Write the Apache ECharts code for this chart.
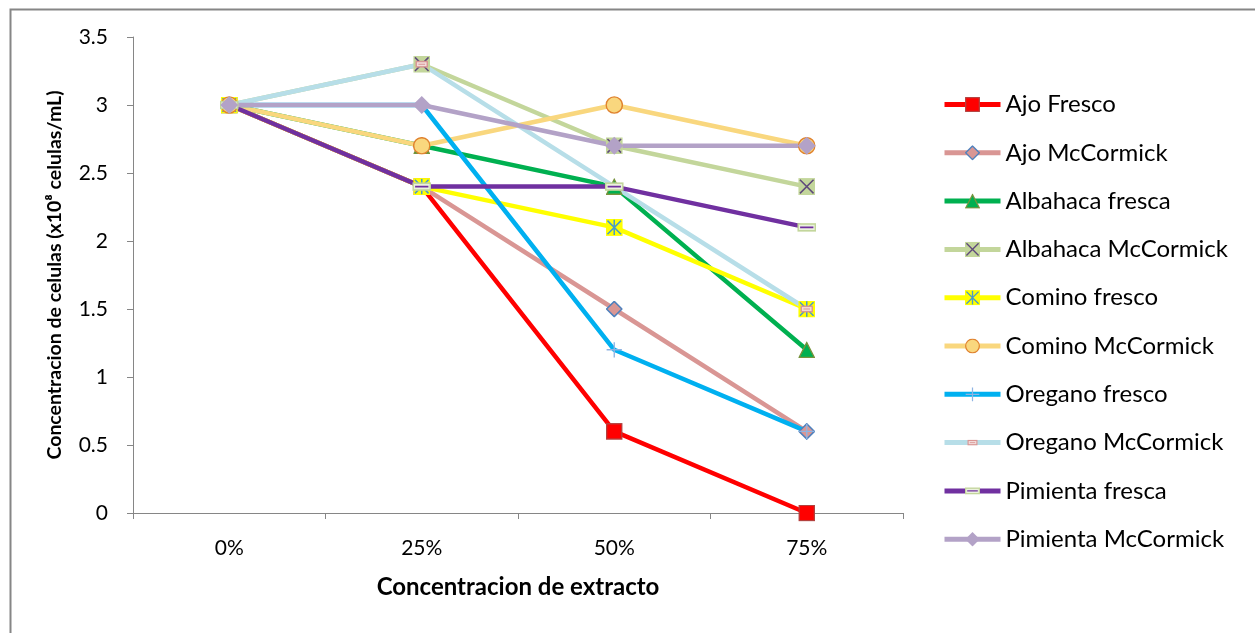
<!DOCTYPE html>
<html>
<head>
<meta charset="utf-8">
<script src="https://cdn.jsdelivr.net/npm/echarts@6/dist/echarts.min.js"></script>
<style>
  html, body { margin: 0; padding: 0; background: #fff; }
  #chart { width: 1255px; height: 633px; }
</style>
</head>
<body>
<div id="chart"></div>
<script>
// Extract concentrations on the category axis
const categories = ['0%', '25%', '50%', '75%'];

// Cell concentration (x10^8 cells/mL) per treatment
const ajoFresco          = [3, 2.4, 0.6, 0];
const ajoMcCormick       = [3, 2.4, 1.5, 0.6];
const albahacaFresca     = [3, 2.7, 2.4, 1.2];
const albahacaMcCormick  = [3, 3.3, 2.7, 2.4];
const cominoFresco       = [3, 2.4, 2.1, 1.5];
const cominoMcCormick    = [3, 2.7, 3, 2.7];
const oreganoFresco      = [3, 3, 1.2, 0.6];
const oreganoMcCormick   = [3, 3.3, 2.4, 1.5];
const pimientaFresca     = [3, 2.4, 2.4, 2.1];
const pimientaMcCormick  = [3, 3, 2.7, 2.7];

const yTicks = { min: 0, max: 3.5, interval: 0.5 };

const FONT = 'Lato, sans-serif';

// Marker glyphs as small inline SVG images (multi-colour markers)
function svgSymbol(body) {
  const svg = '<svg xmlns="http://www.w3.org/2000/svg" width="80" height="80" viewBox="0 0 20 20">' + body + '</svg>';
  return 'image://data:image/svg+xml;charset=utf-8,' + encodeURIComponent(svg);
}

const markers = {
  square:   svgSymbol('<rect x="1" y="1" width="18" height="18" fill="#FF0000" stroke="#B3413E" stroke-width="1.6"/>'),
  diamond:  svgSymbol('<polygon points="10,1 19,10 10,19 1,10" fill="#D99694" stroke="#4F81BD" stroke-width="1.8"/>'),
  triangle: svgSymbol('<polygon points="10,1.5 19,19 1,19" fill="#00B050" stroke="#77933C" stroke-width="1.6"/>'),
  xbox:     svgSymbol('<rect x="0" y="0" width="20" height="20" fill="#C3D69B"/><path d="M2,2L18,18M18,2L2,18" stroke="#604A7B" stroke-width="1.8"/>'),
  star:     svgSymbol('<rect x="0" y="0" width="20" height="20" fill="#FFFF00"/><path d="M2,2L18,18M18,2L2,18M10,1L10,19" stroke="#4A9BC6" stroke-width="1.8"/>'),
  circle:   svgSymbol('<circle cx="10" cy="10" r="9" fill="#F9D77E" stroke="#E0832F" stroke-width="1.6"/>'),
  plus:     svgSymbol('<path d="M10,1V19M1,10H19" stroke="#8EB4E3" stroke-width="1.6"/>'),
  dash:     svgSymbol('<rect x="4.2" y="7.2" width="11.6" height="5.6" fill="#F2DCDB" stroke="#D99694" stroke-width="1.5"/><path d="M6.5,10H13.5" stroke="#D99694" stroke-width="1.1"/>'),
  bar:      svgSymbol('<rect x="0.9" y="6.4" width="18.2" height="7.2" fill="#EBF1DE" stroke="#C3D69B" stroke-width="1.7"/><path d="M3,10H17" stroke="#7030A0" stroke-width="1.7"/>'),
  diamond2: svgSymbol('<polygon points="10,0.5 19.5,10 10,19.5 0.5,10" fill="#B3A2C7"/>')
};

function makeSeries(name, data, color, symbol, size) {
  return {
    name: name,
    type: 'line',
    data: data,
    symbol: symbol,
    symbolSize: size,
    showAllSymbol: true,
    lineStyle: { color: color, width: 4.5 },
    itemStyle: { color: color },
    emphasis: { disabled: true },
    animation: false
  };
}

const series = [
  makeSeries('Ajo Fresco',         ajoFresco,         '#FF0000', markers.square,   17),
  makeSeries('Ajo McCormick',      ajoMcCormick,      '#D99694', markers.diamond,  17),
  makeSeries('Albahaca fresca',    albahacaFresca,    '#00B050', markers.triangle, 17),
  makeSeries('Albahaca McCormick', albahacaMcCormick, '#C3D69B', markers.xbox,     17),
  makeSeries('Comino fresco',      cominoFresco,      '#FFFF00', markers.star,     17),
  makeSeries('Comino McCormick',   cominoMcCormick,   '#F9D77E', markers.circle,   18),
  makeSeries('Oregano fresco',     oreganoFresco,     '#00B0F0', markers.plus,     17),
  makeSeries('Oregano McCormick',  oreganoMcCormick,  '#B7DEE8', markers.dash,     19),
  makeSeries('Pimienta fresca',    pimientaFresca,    '#7030A0', markers.bar,      19),
  makeSeries('Pimienta McCormick', pimientaMcCormick, '#B3A2C7', markers.diamond2, 19)
];

const chart = echarts.init(document.getElementById('chart'), null, { renderer: 'canvas' });

chart.setOption({
  backgroundColor: '#ffffff',
  animation: false,
  textStyle: { fontFamily: FONT },
  graphic: [{
    type: 'rect',
    left: 8, top: 7,
    shape: { width: 1300, height: 700 },
    style: { fill: 'none', stroke: '#868686', lineWidth: 2 },
    silent: true
  }],
  grid: { left: 133, right: 352, top: 37, bottom: 120, containLabel: false },
  legend: {
    orient: 'vertical',
    left: 942,
    top: 92,
    padding: 0,
    itemWidth: 56,
    itemHeight: 19,
    itemGap: 23.3,
    lineStyle: { width: 5 },
    textStyle: { fontFamily: FONT, fontSize: 24, color: '#000', lineHeight: 25 },
    data: series.map(s => s.name)
  },
  xAxis: {
    type: 'category',
    data: categories,
    boundaryGap: true,
    name: 'Concentracion de extracto',
    nameLocation: 'middle',
    nameGap: 62,
    nameTextStyle: { fontFamily: FONT, fontSize: 24, fontWeight: 'bold', color: '#000' },
    axisLine: { lineStyle: { color: '#868686', width: 1 } },
    axisTick: { show: true, length: 6, lineStyle: { color: '#868686' } },
    axisLabel: { fontFamily: FONT, fontSize: 21, color: '#000', margin: 25 },
    splitLine: { show: false }
  },
  yAxis: {
    type: 'value',
    min: yTicks.min,
    max: yTicks.max,
    interval: yTicks.interval,
    name: 'Concentracion de celulas (x10\u2078 celulas/mL)',
    nameLocation: 'middle',
    nameGap: 68,
    nameTextStyle: { fontFamily: FONT, fontSize: 19.5, fontWeight: 'bold', color: '#000' },
    axisLine: { show: true, lineStyle: { color: '#868686', width: 1 } },
    axisTick: { show: true, length: 6, lineStyle: { color: '#868686' } },
    axisLabel: { fontFamily: FONT, fontSize: 21, color: '#000', margin: 25 },
    splitLine: { show: false }
  },
  series: series
});
</script>
</body>
</html>
